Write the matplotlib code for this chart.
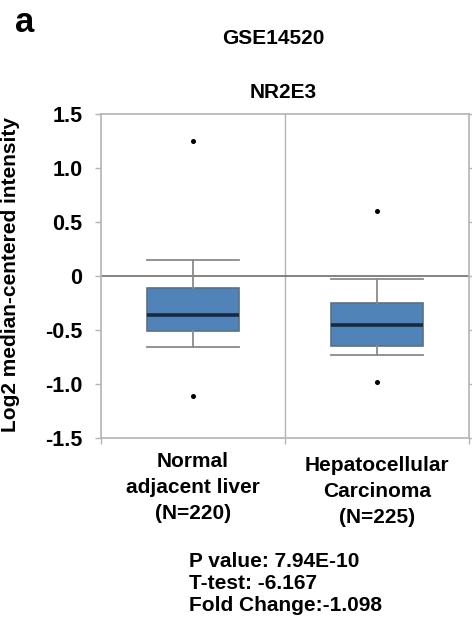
import matplotlib
matplotlib.use("Agg")
import matplotlib.pyplot as plt
from matplotlib.transforms import blended_transform_factory

plt.rcParams["font.family"] = ["Liberation Sans", "DejaVu Sans"]
plt.rcParams["font.weight"] = "bold"

# values
groups = ["Normal\nadjacent liver\n(N=220)", "Hepatocellular\nCarcinoma\n(N=225)"]
whisker_hi = [0.148, -0.028]
q3 = [-0.111, -0.253]
median = [-0.358, -0.454]
q1 = [-0.512, -0.651]
whisker_lo = [-0.657, -0.734]
outliers = [[1.253, -1.114], [0.602, -0.981]]
yticks = [-1.5, -1.0, -0.5, 0, 0.5, 1.0, 1.5]
ytick_labels = ["-1.5", "-1.0", "-0.5", "0", "0.5", "1.0", "1.5"]
stats_text = ["P value: 7.94E-10", "T-test: -6.167", "Fold Change:-1.098"]

frame = "#b4b4b4"

fig = plt.figure(figsize=(4.72, 6.23), dpi=100)
ax = fig.add_axes([101 / 472, 1 - 438 / 623, 368 / 472, 324 / 623])

stats = []
for i in range(len(groups)):
    stats.append({
        "med": median[i], "q1": q1[i], "q3": q3[i],
        "whislo": whisker_lo[i], "whishi": whisker_hi[i],
        "fliers": outliers[i],
    })
pos = [i + 0.5 for i in range(len(groups))]
ax.bxp(stats, positions=pos, widths=0.5, patch_artist=True, showfliers=True,
       boxprops=dict(facecolor="#5084b8", edgecolor="#5d6f82", linewidth=1.2),
       medianprops=dict(color="#1a2a3e", linewidth=2.6),
       whiskerprops=dict(color="#8a8a8a", linewidth=1.3),
       capprops=dict(color="#8a8a8a", linewidth=1.3),
       capwidths=0.5,
       flierprops=dict(marker="o", markersize=2.6, markerfacecolor="black",
                       markeredgecolor="black"))

ax.set_xlim(0, len(groups))
ax.set_ylim(-1.5, 1.5)
ax.axhline(0, color="#6e6e6e", linewidth=1.2, zorder=1)
for b in range(1, len(groups)):
    ax.axvline(b, color=frame, linewidth=1.0, zorder=0)

ax.set_yticks(yticks)
ax.set_yticklabels(ytick_labels, fontsize=15.5, fontweight="bold")
ax.set_xticks(range(len(groups) + 1))
ax.set_xticklabels([])
ax.tick_params(axis="both", direction="out", length=4.5, color=frame, width=1.0, pad=8)
ax.tick_params(axis="y", right=True, pad=9)
for s in ax.spines.values():
    s.set_color(frame)
    s.set_linewidth(1.2)

ax.set_ylabel("Log2 median-centered intensity", fontsize=15, fontweight="bold")
ax.yaxis.set_label_coords((20 - 101) / 368, 0.505)

tr = blended_transform_factory(ax.transData, fig.transFigure)
label_y = [1 - 452 / 623, 1 - 456 / 623]
for x, lab, yy in zip(pos, groups, label_y):
    ax.text(x, yy, lab, transform=tr, ha="center", va="top", fontsize=15,
            fontweight="bold", linespacing=1.48)

fig.text(189 / 472, 1 - 552 / 623, "\n".join(stats_text), ha="left", va="top",
         fontsize=15, fontweight="bold", linespacing=1.2)

fig.text(25 / 472, 1 - 22 / 623, "a", ha="center", va="center", fontsize=25,
         fontweight="bold")
fig.text(273 / 472, 1 - 38 / 623, "GSE14520", ha="center", va="center",
         fontsize=15, fontweight="bold")
fig.text(283 / 472, 1 - 93 / 623, "NR2E3", ha="center", va="center",
         fontsize=15, fontweight="bold")

fig.savefig("out.png", dpi=100)
